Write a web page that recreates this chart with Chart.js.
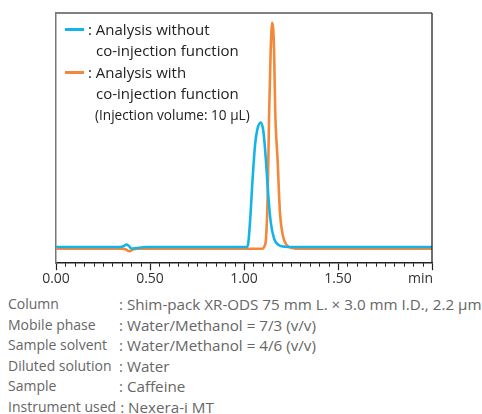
<!DOCTYPE html>
<html>
<head>
<meta charset="utf-8">
<script src="https://cdn.jsdelivr.net/npm/chart.js@4"></script>
<style>
    body { margin: 0; background: #fff; width: 482px; height: 414px; overflow: hidden; position: relative; font-family: "Open Sans", "Noto Sans", sans-serif; }
    #chartBox { position: absolute; left: 0; top: 0; width: 482px; height: 290px; }
    .leg { position: absolute; white-space: nowrap; color: #222; font-size: 15px; line-height: 20px; }
    .dash { position: absolute; width: 19px; height: 2.6px; }
    #conditions { position: absolute; left: 8px; top: 294px; color: #666; font-size: 14px; }
    #conditions .row { height: 20.6px; line-height: 20.6px; white-space: nowrap; display: flex; }
    #conditions .lab { min-width: 107px; flex: none; }
    #conditions .val { font-size: 15.2px; }
</style>
</head>
<body>
<div id="chartBox"><canvas id="chromChart" width="482" height="290"></canvas></div>

<div class="dash" style="left:65px; top:28px; background:#14b4e9;"></div>
<div class="leg" style="left:88px; top:19px;">: Analysis without</div>
<div class="leg" style="left:96px; top:40px;">co-injection function</div>
<div class="dash" style="left:65px; top:71px; background:#f3883a;"></div>
<div class="leg" style="left:88px; top:62px;">: Analysis with</div>
<div class="leg" style="left:96px; top:83px;">co-injection function</div>
<div class="leg" style="left:95px; top:105px; font-size:13.6px;">(Injection volume: 10 µL)</div>

<div id="conditions"></div>

<script>
// Retention time (min) and detector signal
const cyanTime   = [0, 0.340, 0.362, 0.375, 0.388, 0.402, 0.426, 0.479, 1.011, 1.021, 1.032, 1.046, 1.059, 1.071, 1.089, 1.103, 1.117, 1.129, 1.142, 1.160, 1.182, 1.218, 1.300, 2.0];
const cyanSignal = [6.45, 6.45, 6.85, 7.46, 6.85, 5.85, 6.05, 6.45, 6.45, 7.26, 16.5, 34.0, 47.5, 53.5, 56.2, 52.8, 40.7, 27.3, 16.5, 9.8, 7.4, 6.6, 6.45, 6.45];

const orangeTime   = [0, 0.351, 0.372, 0.390, 0.410, 0.436, 1.096, 1.109, 1.117, 1.126, 1.134, 1.142, 1.150, 1.160, 1.166, 1.179, 1.191, 1.206, 1.227, 1.261, 1.298, 2.0];
const orangeSignal = [5.77, 5.77, 5.44, 4.84, 5.44, 5.77, 5.77, 6.85, 9.8, 27.4, 60.9, 85.1, 96.1, 85.1, 60.9, 40.7, 20.6, 11.3, 7.26, 5.97, 5.77, 5.77];

const majorTicks = [0, 0.5, 1.0, 1.5];
const majorLabels = ['0.00', '0.50', '1.00', '1.50'];
const unitLabel = 'min';

const conditionLabels = ['Column', 'Mobile phase', 'Sample solvent', 'Diluted solution', 'Sample', 'Instrument used'];
const conditionValues = [
    'Shim-pack XR-ODS 75 mm L. × 3.0 mm I.D., 2.2 µm',
    'Water/Methanol = 7/3 (v/v)',
    'Water/Methanol = 4/6 (v/v)',
    'Water',
    'Caffeine',
    'Nexera-i MT'
];

// Conditions block
const condBox = document.getElementById('conditions');
conditionLabels.forEach((lab, i) => {
    const row = document.createElement('div');
    row.className = 'row';
    row.innerHTML = `<span class="lab">${lab}</span><span class="val">&nbsp;: ${conditionValues[i]}</span>`;
    condBox.appendChild(row);
});

const FONT = '"Open Sans", "Noto Sans", sans-serif';

function toPoints(xs, ys) {
    return xs.map((x, i) => ({ x, y: ys[i] }));
}

function isMajor(v) {
    return majorTicks.some(m => Math.abs(m - v) < 1e-6) || Math.abs(v - 2) < 1e-6;
}

// Minor ticks, top/right frame and the unit label
const framePlugin = {
    id: 'framePlugin',
    afterDraw(chart) {
        const { ctx, chartArea, scales: { x } } = chart;
        ctx.save();
        ctx.strokeStyle = '#222';
        ctx.lineWidth = 1;
        x.ticks.forEach(t => {
            if (isMajor(t.value)) return;
            const px = Math.round(x.getPixelForValue(t.value)) + 0.5;
            ctx.beginPath();
            ctx.moveTo(px, chartArea.bottom);
            ctx.lineTo(px, chartArea.bottom + 3.5);
            ctx.stroke();
        });

        ctx.strokeStyle = '#808080';
        ctx.lineWidth = 2;
        ctx.beginPath();
        ctx.moveTo(chartArea.left, chartArea.top);
        ctx.lineTo(chartArea.right, chartArea.top);
        ctx.stroke();

        ctx.strokeStyle = '#222';
        ctx.lineWidth = 1.3;
        ctx.beginPath();
        ctx.moveTo(chartArea.right, chartArea.top);
        ctx.lineTo(chartArea.right, chartArea.bottom);
        ctx.stroke();

        ctx.fillStyle = '#333';
        ctx.font = `14px ${FONT}`;
        ctx.textAlign = 'right';
        ctx.textBaseline = 'middle';
        ctx.fillText(unitLabel, x.getPixelForValue(x.max) + 1, chartArea.bottom + 16);
        ctx.restore();
    }
};

new Chart(document.getElementById('chromChart').getContext('2d'), {
    type: 'line',
    data: {
        datasets: [
            {
                label: 'Analysis without co-injection function',
                data: toPoints(cyanTime, cyanSignal),
                borderColor: '#14b4e9',
                borderWidth: 2.6,
                pointRadius: 0,
                cubicInterpolationMode: 'monotone',
                fill: false
            },
            {
                label: 'Analysis with co-injection function',
                data: toPoints(orangeTime, orangeSignal),
                borderColor: '#f3883a',
                borderWidth: 2.6,
                pointRadius: 0,
                cubicInterpolationMode: 'monotone',
                fill: false
            }
        ]
    },
    options: {
        responsive: false,
        animation: false,
        events: [],
        layout: { padding: { left: 56, right: 50, top: 13, bottom: 3 } },
        plugins: {
            legend: { display: false },
            tooltip: { enabled: false }
        },
        scales: {
            x: {
                type: 'linear',
                min: 0,
                max: 2,
                border: { color: '#222', width: 1.5 },
                grid: {
                    drawOnChartArea: false,
                    tickLength: 7,
                    tickWidth: 1.2,
                    tickColor: c => isMajor(c.tick.value) ? '#222' : 'rgba(0,0,0,0)'
                },
                ticks: {
                    stepSize: 0.05,
                    autoSkip: false,
                    maxRotation: 0,
                    padding: 0,
                    color: '#333',
                    font: { family: FONT, size: 14 },
                    callback: v => {
                        const i = majorTicks.findIndex(m => Math.abs(m - v) < 1e-6);
                        return i >= 0 ? majorLabels[i] : '';
                    }
                }
            },
            y: {
                type: 'linear',
                min: 0,
                max: 100,
                border: { color: '#777', width: 1.5 },
                grid: { drawOnChartArea: false, drawTicks: false },
                ticks: { display: false }
            }
        }
    },
    plugins: [framePlugin]
});
</script>
</body>
</html>
